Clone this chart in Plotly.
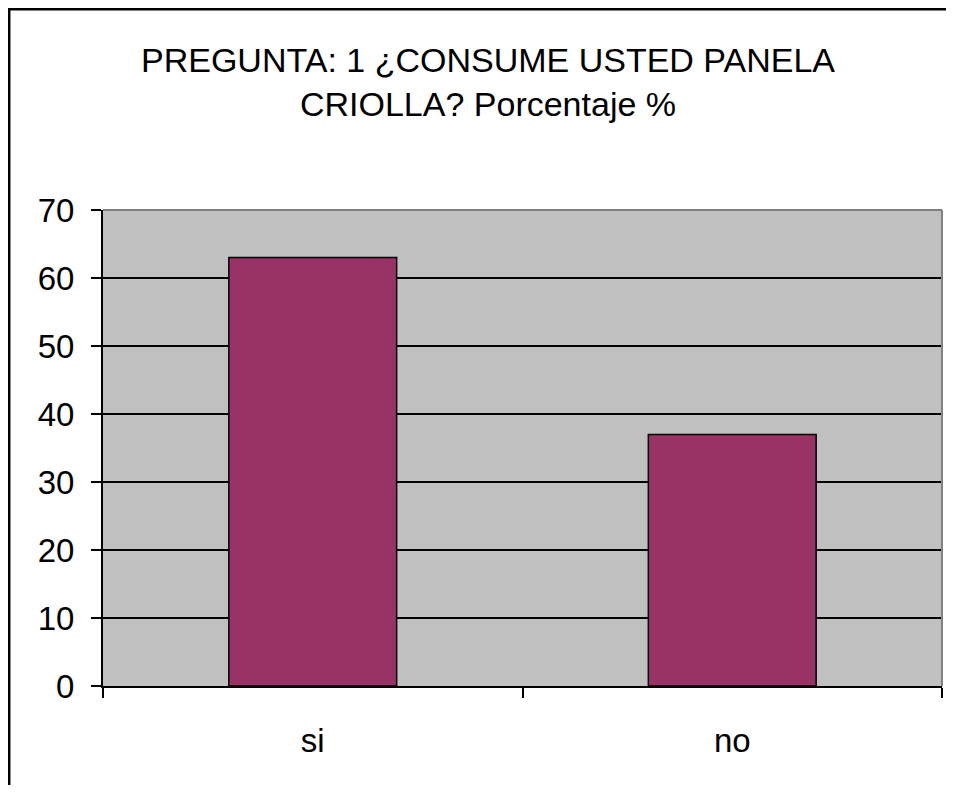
import plotly.graph_objects as go

categories = ["si", "no"]
values = [63, 37]
y_ticks = [0, 10, 20, 30, 40, 50, 60, 70]
title_text = "PREGUNTA: 1 ¿CONSUME USTED PANELA<br>CRIOLLA? Porcentaje %"

# figure is placed at an 8px offset by the page body margin;
# keep it short enough that no scrollbar appears
W, H = 946, 777
L, R, T = 95, 12, 202
pw = W - L - R
ph = 476
B = H - T - ph

fig = go.Figure()
fig.add_trace(go.Bar(
    x=categories, y=values,
    marker=dict(color="#993366", line=dict(color="black", width=1.5)),
))

def px_x(p):
    return (p - L) / pw

def px_y(p):
    return (H - B - p) / ph

shapes = [
    # outer chart border: only top and left edges are visible
    dict(type="line", xref="paper", yref="paper",
         x0=px_x(0), x1=px_x(W), y0=px_y(1.2), y1=px_y(1.2),
         line=dict(color="black", width=2.5), layer="above"),
    dict(type="line", xref="paper", yref="paper",
         x0=px_x(1.2), x1=px_x(1.2), y0=px_y(0), y1=px_y(H),
         line=dict(color="black", width=2.5), layer="above"),
    # gray top/right frame of plot area
    dict(type="line", xref="paper", yref="paper", x0=0, x1=1, y0=1, y1=1,
         line=dict(color="#808080", width=2)),
    dict(type="line", xref="paper", yref="paper", x0=1, x1=1, y0=0, y1=1,
         line=dict(color="#808080", width=2)),
]

fig.update_layout(
    width=W, height=H,
    margin=dict(l=L, r=R, t=T, b=B),
    paper_bgcolor="white",
    plot_bgcolor="#C0C0C0",
    showlegend=False,
    bargap=0.6,
    font=dict(family="Liberation Sans, Arial, sans-serif", color="black"),
    title=dict(text=title_text, x=480 / W, xanchor="center",
               y=1 - 64 / H, yanchor="middle",
               font=dict(size=34, color="black")),
    shapes=shapes,
    xaxis=dict(
        type="category",
        showline=True, linecolor="black", linewidth=2,
        ticks="outside", ticklen=10, tickwidth=2, tickcolor="black",
        tickson="boundaries",
        showgrid=False,
        tickfont=dict(size=33),
        ticklabelstandoff=24,
    ),
    yaxis=dict(
        range=[0, 70],
        tickvals=y_ticks,
        showline=True, linecolor="black", linewidth=2,
        ticks="outside", ticklen=10, tickwidth=2, tickcolor="black",
        showgrid=True, gridcolor="black", gridwidth=1.5,
        zeroline=False,
        tickfont=dict(size=33),
        ticklabelstandoff=10,
    ),
)

fig.write_html("out.html")
